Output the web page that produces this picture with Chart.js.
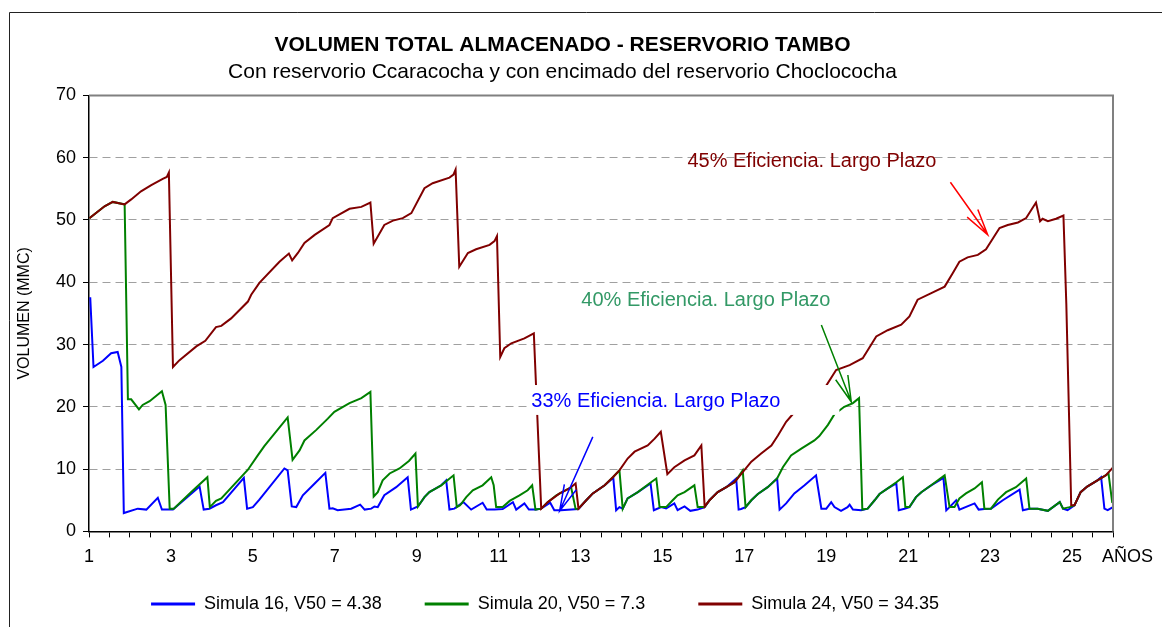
<!DOCTYPE html>
<html>
<head>
<meta charset="utf-8">
<script src="https://cdn.jsdelivr.net/npm/chart.js@4.4.1/dist/chart.umd.min.js"></script>
<style>
  html, body { margin: 0; padding: 0; background: #fff; }
  #wrap { width: 1162px; height: 627px; position: relative; }
</style>
</head>
<body>
<div id="wrap"><canvas id="volChart"></canvas></div>
<script>
// ---- data (x = año, y = MMC) ----
const s16X = [1.03,1.11,1.34,1.54,1.70,1.79,1.85,2.19,2.40,2.68,2.78,2.92,3.05,3.70,3.80,3.94,4.10,4.27,4.78,4.86,5.00,5.16,5.77,5.85,5.95,6.06,6.22,6.51,6.77,6.87,6.95,7.07,7.40,7.62,7.73,7.89,7.97,8.05,8.21,8.50,8.78,8.86,9.03,9.19,9.31,9.60,9.72,9.80,9.92,10.14,10.33,10.61,10.71,10.90,11.10,11.35,11.43,11.63,11.74,11.92,12.04,12.26,12.36,12.52,12.95,13.14,13.30,13.59,13.80,13.87,13.95,14.03,14.15,14.40,14.71,14.79,14.97,15.09,15.29,15.37,15.54,15.68,15.86,16.03,16.15,16.35,16.56,16.80,16.86,16.92,17.03,17.17,17.33,17.57,17.80,17.86,18.02,18.22,18.47,18.75,18.88,19.00,19.12,19.20,19.36,19.52,19.57,19.65,19.85,20.01,20.18,20.30,20.50,20.71,20.77,20.91,21.03,21.19,21.32,21.56,21.86,21.93,22.01,22.17,22.25,22.62,22.72,22.86,23.02,23.31,23.72,23.80,23.96,24.16,24.41,24.70,24.78,24.89,25.06,25.21,25.37,25.62,25.71,25.79,25.87,26.00];
const s16Y = [37.6,26.4,27.4,28.6,28.8,26.4,2.95,3.65,3.5,5.4,3.5,3.5,3.5,7.2,3.5,3.65,4.2,4.7,8.6,3.65,3.9,5.1,10.1,9.8,4.0,3.9,5.8,7.7,9.4,3.65,3.7,3.4,3.65,4.3,3.5,3.65,4.0,3.9,5.8,7.1,8.7,3.5,4.0,5.5,6.3,7.4,8.2,3.5,3.65,4.7,3.5,4.6,3.5,3.5,3.6,4.7,3.5,4.5,3.5,3.5,3.65,4.6,3.4,3.4,3.6,5.0,6.1,7.4,8.6,3.4,3.9,3.65,5.3,6.3,7.7,3.4,3.9,3.7,4.5,3.4,4.0,3.3,3.5,3.9,5.0,6.3,7.1,8.5,3.5,3.6,3.9,5.0,6.0,7.1,8.5,3.5,4.5,6.1,7.4,9.0,3.65,3.65,4.7,3.9,3.3,3.9,4.3,3.5,3.4,3.65,5.0,6.0,6.9,7.7,3.4,3.65,3.9,5.5,6.3,7.4,8.6,3.4,3.9,5.0,3.5,4.5,3.5,3.6,3.65,5.0,6.7,3.4,3.65,3.65,3.3,4.7,3.65,3.4,4.2,6.3,7.2,8.2,8.7,3.65,3.4,3.9];

const s20X = [1.01,1.38,1.58,1.87,1.95,2.03,2.22,2.31,2.48,2.78,2.87,2.97,3.07,3.49,3.89,3.95,4.10,4.23,4.88,5.12,5.28,5.85,5.97,6.14,6.26,6.55,6.83,6.99,7.36,7.65,7.87,7.95,8.05,8.17,8.34,8.58,8.81,8.97,9.03,9.19,9.31,9.60,9.90,9.98,10.06,10.21,10.37,10.61,10.82,10.88,10.94,11.10,11.27,11.51,11.71,11.82,11.90,12.04,12.20,12.41,12.77,12.88,12.95,13.14,13.30,13.59,13.79,13.95,14.03,14.15,14.40,14.68,14.85,14.93,15.09,15.25,15.37,15.54,15.78,15.86,16.03,16.15,16.35,16.56,16.76,16.96,17.03,17.17,17.33,17.57,17.80,17.94,18.14,18.39,18.71,18.83,19.04,19.20,19.44,19.65,19.80,19.88,20.01,20.18,20.30,20.50,20.71,20.87,20.93,21.03,21.19,21.32,21.56,21.89,22.01,22.13,22.25,22.41,22.62,22.80,22.86,23.02,23.19,23.39,23.63,23.88,23.96,24.16,24.41,24.70,24.78,24.94,25.06,25.21,25.37,25.62,25.82,25.89,25.98,26.00];
const s20Y = [50.3,52.2,52.9,52.5,21.2,21.2,19.6,20.3,20.9,22.5,20.3,3.65,3.65,6.3,8.7,3.9,4.9,5.3,9.9,12.2,13.7,18.3,11.5,13.0,14.6,16.3,18.1,19.2,20.6,21.4,22.4,5.6,6.3,8.2,9.3,10.1,11.3,12.5,4.0,5.5,6.3,7.4,9.0,3.9,4.2,5.5,6.6,7.4,8.7,7.4,3.9,3.9,4.9,5.8,6.6,7.4,3.5,3.65,4.7,5.8,7.1,3.6,3.65,5.0,6.1,7.4,8.7,9.8,3.65,5.3,6.3,7.7,8.5,3.9,3.9,5.0,5.8,6.3,7.4,3.9,3.9,5.0,6.3,7.1,7.9,9.8,3.9,5.0,6.0,7.1,8.5,10.3,12.2,13.3,14.6,15.3,17.1,18.8,20.0,20.6,21.4,3.5,3.65,5.0,6.0,6.9,7.9,8.7,3.9,3.9,5.5,6.3,7.4,9.0,3.9,3.9,5.3,6.1,6.9,7.9,3.65,3.65,5.1,6.3,7.1,8.5,3.65,3.65,3.3,4.7,3.65,3.9,4.2,6.3,7.2,8.2,9.0,9.3,4.7,4.6];

const s24X = [1.01,1.38,1.58,1.87,2.03,2.27,2.52,2.80,2.90,2.95,3.05,3.21,3.62,3.84,4.10,4.23,4.47,4.88,4.96,5.16,5.65,5.88,5.96,6.10,6.26,6.51,6.87,6.95,7.36,7.65,7.87,7.95,8.21,8.42,8.66,8.87,9.19,9.39,9.80,9.90,9.95,10.04,10.25,10.45,10.78,10.90,10.96,11.04,11.14,11.31,11.63,11.86,12.04,12.20,12.49,12.73,12.88,12.95,13.14,13.30,13.59,13.79,13.95,14.15,14.32,14.64,14.81,14.96,15.12,15.29,15.54,15.78,15.95,16.03,16.15,16.35,16.56,16.76,16.96,17.17,17.41,17.66,17.82,18.02,18.18,19.00,19.24,19.57,19.89,20.22,20.50,20.83,21.03,21.23,21.64,21.89,22.09,22.25,22.45,22.70,22.90,23.23,23.43,23.68,23.88,24.12,24.22,24.28,24.41,24.61,24.79,24.86,24.98,25.06,25.21,25.37,25.62,25.82,25.98,26.00];
const s24Y = [50.3,52.2,52.9,52.5,53.3,54.6,55.6,56.6,56.9,57.6,26.4,27.5,29.7,30.6,32.8,33.0,34.2,36.9,38.0,39.9,43.3,44.6,43.5,44.7,46.3,47.6,49.2,50.3,51.8,52.1,52.8,46.2,49.2,49.9,50.3,51.1,55.1,55.9,56.8,57.3,58.1,42.5,44.7,45.3,46.0,46.6,47.4,28.0,29.4,30.2,31.0,31.8,3.65,4.7,6.1,6.9,7.7,3.65,5.0,6.1,7.4,8.7,9.8,11.7,12.8,13.8,14.9,16.0,9.2,10.3,11.4,12.2,13.8,4.0,5.0,6.3,7.1,7.9,9.5,11.2,12.5,13.8,15.4,17.6,18.8,23.4,25.9,26.7,27.8,31.3,32.3,33.2,34.5,37.2,38.5,39.3,41.5,43.3,44.0,44.4,45.3,48.7,49.2,49.6,50.3,52.8,49.8,50.2,49.8,50.2,50.7,36.6,4.2,4.2,6.3,7.2,8.2,9.0,10.1,10.3];

const seriesNames = ["Simula 16, V50 = 4.38", "Simula 20, V50 = 7.3", "Simula 24, V50 = 34.35"];
const seriesColors = ["#0000FF", "#008000", "#800000"];

// tick labels on the x axis (every 2 years)
const yearLabels = [1, 3, 5, 7, 9, 11, 13, 15, 17, 19, 21, 23, 25];

// text notes with their arrows (tail -> tip), in data units
const noteTexts = ["45% Eficiencia. Largo Plazo", "40% Eficiencia. Largo Plazo", "33% Eficiencia. Largo Plazo"];
const noteColors = ["#800000", "#339966", "#0000FF"];
const noteAt = [[15.61, 59.4], [13.02, 37.0], [11.80, 20.8]];
const arrowColors = ["#FF0000", "#008000", "#0000FF"];
const arrowFrom = [[22.03, 56.05], [18.88, 33.15], [13.30, 15.18]];
const arrowTo = [[22.94, 47.63], [19.61, 20.81], [12.49, 3.27]];
// white text box behind the 33% note (hides the lines under it)
const noteBox = {x0: 11.75, x1: 19.32, y0: 18.7, y1: 23.5};

const FONT = "'Liberation Sans', Arial, sans-serif";

function toPoints(xs, ys) {
    return xs.map((x, i) => ({ x: x, y: ys[i] }));
}

const notesPlugin = {
    id: "notes",
    beforeDraw(chart) {
        const ctx = chart.ctx;
        ctx.save();
        ctx.strokeStyle = "#222";
        ctx.lineWidth = 1;
        ctx.beginPath();
        ctx.moveTo(9.5, 640);
        ctx.lineTo(9.5, 12.5);
        ctx.lineTo(1170, 12.5);
        ctx.stroke();
        ctx.restore();
    },
    afterDatasetsDraw(chart) {
        const ctx = chart.ctx;
        const xs = chart.scales.x;
        const ys = chart.scales.y;
        const area = chart.chartArea;

        ctx.save();
        // plot frame top + right
        ctx.strokeStyle = "#808080";
        ctx.lineWidth = 2;
        ctx.beginPath();
        ctx.moveTo(area.left, area.top);
        ctx.lineTo(area.right, area.top);
        ctx.lineTo(area.right, area.bottom);
        ctx.stroke();

        // box for the blue note
        ctx.fillStyle = "#fff";
        const bx = xs.getPixelForValue(noteBox.x0);
        const by = ys.getPixelForValue(noteBox.y1);
        ctx.fillRect(bx, by, xs.getPixelForValue(noteBox.x1) - bx, ys.getPixelForValue(noteBox.y0) - by);

        ctx.font = "20px " + FONT;
        ctx.textBaseline = "middle";
        ctx.textAlign = "left";
        for (let i = 0; i < noteTexts.length; i++) {
            ctx.fillStyle = noteColors[i];
            ctx.fillText(noteTexts[i], xs.getPixelForValue(noteAt[i][0]), ys.getPixelForValue(noteAt[i][1]));

            const x1 = xs.getPixelForValue(arrowFrom[i][0]);
            const y1 = ys.getPixelForValue(arrowFrom[i][1]);
            const x2 = xs.getPixelForValue(arrowTo[i][0]);
            const y2 = ys.getPixelForValue(arrowTo[i][1]);
            const ang = Math.atan2(y2 - y1, x2 - x1);
            const head = 27;
            const spread = 14 * Math.PI / 180;
            ctx.strokeStyle = arrowColors[i];
            ctx.lineWidth = 1.5;
            ctx.beginPath();
            ctx.moveTo(x1, y1);
            ctx.lineTo(x2, y2);
            ctx.moveTo(x2 - head * Math.cos(ang - spread), y2 - head * Math.sin(ang - spread));
            ctx.lineTo(x2, y2);
            ctx.lineTo(x2 - head * Math.cos(ang + spread), y2 - head * Math.sin(ang + spread));
            ctx.stroke();
        }

        // "AÑOS" next to the last year label
        ctx.fillStyle = "#000";
        ctx.font = "18px " + FONT;
        ctx.fillText("AÑOS", area.right - 11, area.bottom + 26);
        ctx.restore();
    }
};

new Chart(document.getElementById("volChart"), {
    type: "line",
    data: {
        datasets: [
            {
                label: seriesNames[0],
                data: toPoints(s16X, s16Y),
                borderColor: seriesColors[0],
                backgroundColor: seriesColors[0],
                order: 2
            },
            {
                label: seriesNames[1],
                data: toPoints(s20X, s20Y),
                borderColor: seriesColors[1],
                backgroundColor: seriesColors[1],
                order: 1
            },
            {
                label: seriesNames[2],
                data: toPoints(s24X, s24Y),
                borderColor: seriesColors[2],
                backgroundColor: seriesColors[2],
                order: 0
            }
        ]
    },
    options: {
        responsive: true,
        maintainAspectRatio: false,
        animation: false,
        elements: {
            line: { borderWidth: 2, tension: 0 },
            point: { radius: 0 }
        },
        layout: { padding: { left: 12, right: 49, top: 0, bottom: 4 } },
        plugins: {
            title: {
                display: true,
                text: "VOLUMEN TOTAL ALMACENADO - RESERVORIO TAMBO",
                color: "#000",
                font: { family: FONT, size: 21, weight: "bold" },
                padding: { top: 33, bottom: 0 }
            },
            subtitle: {
                display: true,
                text: "Con reservorio Ccaracocha y con encimado del reservorio Choclococha",
                color: "#000",
                font: { family: FONT, size: 21 },
                padding: { top: 1, bottom: 11 }
            },
            legend: {
                position: "bottom",
                labels: {
                    color: "#000",
                    font: { family: FONT, size: 18 },
                    boxWidth: 44,
                    boxHeight: 3,
                    padding: 18,
                    sort: (a, b) => a.datasetIndex - b.datasetIndex,
                    generateLabels(chart) {
                        const items = Chart.defaults.plugins.legend.labels.generateLabels(chart);
                        // no box outline; trailing blanks widen the gap between items
                        items.forEach((it, i) => {
                            it.lineWidth = 0;
                            it.text = it.text + (i < items.length - 1 ? "       " : "     ");
                        });
                        return items;
                    }
                }
            },
            tooltip: { enabled: false }
        },
        scales: {
            x: {
                type: "linear",
                min: 1,
                max: 26,
                ticks: {
                    stepSize: 0.5,
                    autoSkip: false,
                    maxRotation: 0,
                    padding: 9,
                    color: "#000",
                    font: { family: FONT, size: 18 },
                    callback: v => yearLabels.includes(v) ? String(v) : ""
                },
                grid: { drawOnChartArea: false, tickLength: 6, color: "#000" },
                border: { color: "#000", width: 1.5 }
            },
            y: {
                min: 0,
                max: 70,
                ticks: {
                    stepSize: 10,
                    padding: 7,
                    color: "#000",
                    font: { family: FONT, size: 18 }
                },
                grid: {
                    tickLength: 6,
                    tickColor: "#000",
                    color: c => (c.tick && (c.tick.value === 0 || c.tick.value === 70)) ? "rgba(0,0,0,0)" : "#A0A0A0"
                },
                border: { color: "#000", width: 1.5, dash: [8, 5] },
                title: {
                    display: true,
                    text: "VOLUMEN (MMC)",
                    color: "#000",
                    font: { family: FONT, size: 16 },
                    padding: { top: 3, bottom: 0 }
                },
                afterFit(scale) { scale.width = 77; }
            }
        }
    },
    plugins: [notesPlugin]
});
</script>
</body>
</html>
